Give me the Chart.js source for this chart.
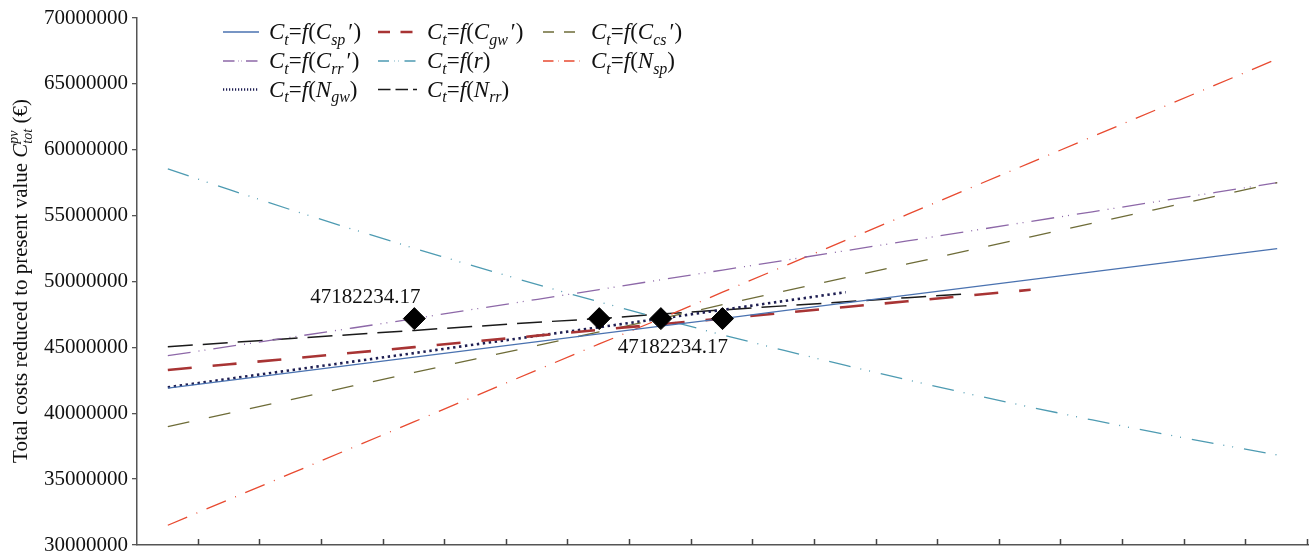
<!DOCTYPE html>
<html>
<head>
<meta charset="utf-8">
<script src="https://cdn.jsdelivr.net/npm/chart.js@4.4.0/dist/chart.umd.min.js"></script>
<style>
  html, body { margin: 0; padding: 0; background: #fff; }
  #wrap { width: 1312px; height: 553px; }
</style>
</head>
<body>
<div id="wrap"><canvas id="costChart" width="1312" height="553"></canvas></div>
<script>
// total present-value costs as a function of each input parameter

"use strict";

const categories = ["1","2","3","4","5","6","7","8","9","10","11","12","13","14","15","16","17","18","19"];

const costSp = [41900000,42490000,43080000,43670000,44260000,44850000,45430000,46020000,46610000,47182234,
                47790000,48380000,48970000,49560000,50140000,50730000,51320000,51910000,52500000];
const costGw = [43280000,43720000,44150000,44590000,45020000,45460000,45890000,46330000,46760000,47182234,
                47630000,48070000,48500000,48940000,49370000];
const costCs = [38980000,40010000,41040000,42070000,43100000,44130000,45150000,46180000,47182234,48240000,
                49270000,50300000,51330000,52360000,53390000,54420000,55440000,56470000,57500000];
const costRr = [44370000,45070000,45770000,46470000,47182234,47920000,48650000,49390000,50130000,50870000,
                51600000,52340000,53080000,53820000,54560000,55290000,56030000,56760000,57500000];
const costR  = [58540000,56970000,55440000,53960000,52520000,51120000,49760000,48450000,47182234,45950000,
                44770000,43630000,42530000,41470000,40460000,39490000,38560000,37680000,36840000];
const costNsp = [31500000,33470000,35430000,37400000,39360000,41330000,43300000,45260000,47182234,49190000,
                 51160000,53130000,55090000,57060000,59020000,60990000,62960000,64920000,66890000];
const costNgw = [41970000,42620000,43270000,43920000,44570000,45230000,45880000,46530000,47182234,47850000,
                 48520000,49190000];
const costNrr = [45050000,45360000,45670000,45980000,46290000,46600000,46910000,47182234,47530000,47840000,
                 48150000,48460000,48770000,49080000];

const baseCost = 47182234.17;
const baseIdx = [4, 7, 8, 9];
const baseLabel = "47182234.17";

const yTicks = [30000000,35000000,40000000,45000000,50000000,55000000,60000000,65000000,70000000];

const seriesNames = ["C_t=f(C_sp′)", "C_t=f(C_gw′)", "C_t=f(C_cs′)",
                     "C_t=f(C_rr′)", "C_t=f(r)", "C_t=f(N_sp)",
                     "C_t=f(N_gw)", "C_t=f(N_rr)"];

const SERIF = "'Liberation Serif', 'Times New Roman', serif";

let pad = function (arr) {
  return categories.map((c, i) => (i < arr.length ? arr[i] : null));
};

let baseData = categories.map((c, i) => (baseIdx.includes(i) ? baseCost : null));

// split "C_t=f(C_sp′)" into italic letters, subscripts and plain symbols
let parseName = function (str) {
  const parts = [];
  let i = 0;
  while (i < str.length) {
    const ch = str[i];
    if (ch === "_") {
      let j = i + 1;
      while (j < str.length && /[a-z]/.test(str[j])) j++;
      parts.push({text: str.slice(i + 1, j), italic: true, shift: "sub"});
      i = j;
    } else if (/[A-Za-z]/.test(ch)) {
      parts.push({text: ch, italic: true});
      i++;
    } else if (ch === "′") {
      parts.push({text: ch, italic: false, gap: 3});
      i++;
    } else {
      parts.push({text: ch, italic: false});
      i++;
    }
  }
  return parts;
};

let drawParts = function (ctx, parts, x, y, size) {
  let cx = x;
  for (const p of parts) {
    const s = p.shift ? Math.round(size * 0.68) : size;
    ctx.font = (p.italic ? "italic " : "") + s + "px " + SERIF;
    if (p.stack) {
      const w1 = ctx.measureText(p.stack.sub).width;
      const w2 = ctx.measureText(p.stack.sup).width;
      ctx.fillText(p.stack.sub, cx, y + size * 0.25);
      ctx.fillText(p.stack.sup, cx, y - size * 0.42);
      cx += Math.max(w1, w2);
      continue;
    }
    if (p.gap) cx += p.gap;
    const dy = p.shift === "sub" ? size * 0.25 : 0;
    ctx.fillText(p.text, cx, y + dy);
    cx += ctx.measureText(p.text).width;
  }
  return cx;
};

const datasets = [
  {label: "base", data: baseData, showLine: false, pointStyle: "rectRot", pointRadius: 11,
   pointBackgroundColor: "#000", pointBorderColor: "#000", borderColor: "#000"},
  {label: seriesNames[0], data: pad(costSp), borderColor: "#4a72b0", borderWidth: 1.3, borderDash: []},
  {label: seriesNames[1], data: pad(costGw), borderColor: "#a83434", borderWidth: 2.6, borderDash: [24, 21]},
  {label: seriesNames[2], data: pad(costCs), borderColor: "#6e6c38", borderWidth: 1.3, borderDash: [22, 20]},
  {label: seriesNames[3], data: pad(costRr), borderColor: "#8d68a8", borderWidth: 1.3, borderDash: [23, 8, 1, 5, 1, 8]},
  {label: seriesNames[4], data: pad(costR), borderColor: "#4e9bb2", borderWidth: 1.3, borderDash: [22, 10, 1, 8, 1, 11]},
  {label: seriesNames[5], data: pad(costNsp), borderColor: "#e84a30", borderWidth: 1.3, borderDash: [21, 10, 1, 10]},
  {label: seriesNames[6], data: pad(costNgw), borderColor: "#1e1e52", borderWidth: 2.6, borderDash: [2.4, 3.6]},
  {label: seriesNames[7], data: pad(costNrr), borderColor: "#1a1a1a", borderWidth: 1.5, borderDash: [25, 10]}
];

for (const ds of datasets) {
  if (ds.label === "base") continue;
  ds.pointRadius = 0;
  ds.fill = false;
  ds.tension = 0;
  ds.borderCapStyle = "butt";
}

// small upward tick marks on the category axis, between categories
const xTickPlugin = {
  id: "xTicks",
  afterDraw(chart) {
    const ctx = chart.ctx;
    const a = chart.chartArea;
    const n = categories.length;
    const step = (a.right - a.left) / n;
    ctx.save();
    ctx.strokeStyle = "#444";
    ctx.lineWidth = 1.5;
    ctx.beginPath();
    for (let k = 1; k <= n; k++) {
      const x = Math.round(a.left + k * step) - 0.5;
      ctx.moveTo(x, a.bottom);
      ctx.lineTo(x, a.bottom - 6);
    }
    ctx.stroke();
    ctx.restore();
  }
};

// legend with italic names and subscripts, three columns
const legendPlugin = {
  id: "richLegend",
  afterDraw(chart) {
    const ctx = chart.ctx;
    const lineX = [[223, 259], [378, 417], [543, 582]];
    const textX = [269, 427, 591];
    const rowY = [32, 61, 89.5];
    ctx.save();
    ctx.fillStyle = "#111";
    ctx.textBaseline = "alphabetic";
    chart.data.datasets.slice(1).forEach((ds, i) => {
      const col = i % 3, row = Math.floor(i / 3);
      const y = rowY[row];
      ctx.strokeStyle = ds.borderColor;
      ctx.lineWidth = ds.borderWidth;
      ctx.setLineDash(ds.borderDash.map(d => d * 0.5));
      ctx.beginPath();
      ctx.moveTo(lineX[col][0], y);
      ctx.lineTo(lineX[col][1], y);
      ctx.stroke();
      ctx.setLineDash([]);
      drawParts(ctx, parseName(ds.label), textX[col], y + 7, 23);
    });
    ctx.restore();
  }
};

// value labels next to the base case diamonds
const baseLabelPlugin = {
  id: "baseLabels",
  afterDraw(chart) {
    const ctx = chart.ctx;
    const pts = chart.getDatasetMeta(0).data;
    const first = pts[baseIdx[0]], third = pts[baseIdx[2]];
    ctx.save();
    ctx.fillStyle = "#111";
    ctx.font = "21px " + SERIF;
    ctx.textAlign = "center";
    ctx.textBaseline = "middle";
    ctx.fillText(baseLabel, first.x - 49, first.y - 21);
    ctx.fillText(baseLabel, third.x + 12, third.y + 29);
    ctx.restore();
  }
};

// rotated y axis title with C_tot^pv
const yTitlePlugin = {
  id: "yTitle",
  afterDraw(chart) {
    const ctx = chart.ctx;
    const size = 21;
    const parts = [
      {text: "Total costs reduced to present value ", italic: false},
      {text: "C", italic: true},
      {shift: "stack", italic: true, stack: {sub: "tot", sup: "pv"}},
      {text: " (€)", italic: false}
    ];
    ctx.save();
    ctx.fillStyle = "#111";
    ctx.textBaseline = "alphabetic";
    // measure first
    const w = drawParts({
      set font(f) { ctx.font = f; }, get font() { return ctx.font; },
      measureText: (t) => ctx.measureText(t), fillText() {}
    }, parts, 0, 0, size);
    ctx.translate(27, 281);
    ctx.rotate(-Math.PI / 2);
    drawParts(ctx, parts, -w / 2, 0, size);
    ctx.restore();
  }
};

const config = {
  type: "line",
  data: {labels: categories, datasets},
  options: {
    responsive: false,
    animation: false,
    layout: {autoPadding: false, padding: {left: 0, right: 4, top: 18, bottom: 8}},
    plugins: {legend: {display: false}, tooltip: {enabled: false}},
    scales: {
      x: {
        type: "category",
        offset: true,
        grid: {display: false, offset: true, drawTicks: false},
        border: {display: true, color: "#555", width: 1.5},
        ticks: {display: false},
        afterFit(scale) {
          scale.height = 0;
          scale.paddingLeft = 0;
          scale.paddingRight = 0;
        }
      },
      y: {
        min: 30000000,
        max: 70000000,
        afterFit(scale) {
          scale.width = 137;
          scale.paddingTop = 0;
          scale.paddingBottom = 0;
        },
        afterBuildTicks(scale) { scale.ticks = yTicks.map(v => ({value: v})); },
        grid: {drawOnChartArea: false, drawTicks: true, tickLength: 5, color: "#555", lineWidth: 1.3},
        border: {display: true, color: "#555", width: 1.5},
        ticks: {
          color: "#111",
          padding: 4,
          font: {family: SERIF, size: 21},
          callback: (v) => String(v)
        }
      }
    }
  },
  plugins: [xTickPlugin, legendPlugin, baseLabelPlugin, yTitlePlugin]
};

const costChart = new Chart(document.getElementById("costChart").getContext("2d"), config);
</script>
</body>
</html>
